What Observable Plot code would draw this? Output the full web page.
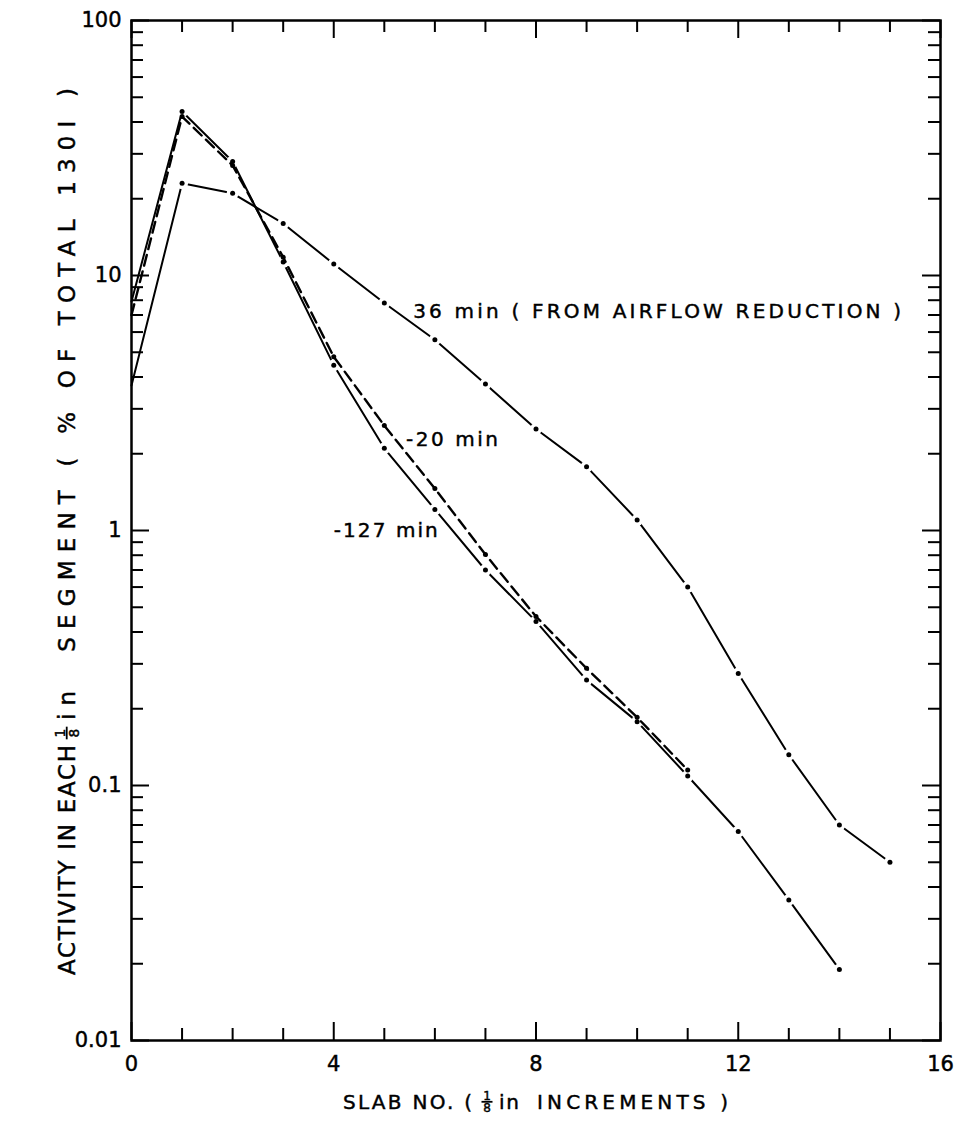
<!DOCTYPE html>
<html><head><meta charset="utf-8">
<script src="https://cdn.jsdelivr.net/npm/d3@7"></script>
<script src="https://cdn.jsdelivr.net/npm/@observablehq/plot@0.6"></script>
<style>
body{margin:0;background:#fff}
svg text{stroke:#000;stroke-width:0.45px;paint-order:fill}
</style>
</head><body><div id="chart"></div>
<script>
// ---- data ----
const slab = [0,1,2,3,4,5,6,7,8,9,10,11,12,13,14,15];
const act36  = [3.7, 23, 21, 16, 11.1, 7.8, 5.6, 3.75, 2.5, 1.78, 1.1, 0.6, 0.275, 0.132, 0.07, 0.05];
const actM20 = [7.0, 42, 27, 11.8, 4.8, 2.58, 1.46, 0.805, 0.46, 0.288, 0.185, 0.115];
const actM127 = [7.9, 44, 28, 11.3, 4.45, 2.1, 1.21, 0.70, 0.44, 0.259, 0.178, 0.109, 0.066, 0.0356, 0.019];

const labelText = ["36 min ( FROM AIRFLOW REDUCTION )", "-20 min", "-127 min"];
const labelX = [5.57, 5.43, 4.0];
const labelY = [7.2, 2.27, 1.0];

const yDecades = [0.01, 0.1, 1, 10, 100];
const yTickLabels = ["0.01", "0.1", "1", "10", "100"];
const yMinorMult = [2,3,4,5,6,7,8,9];
const xMajor = [0, 4, 8, 12, 16];
const xMinor = [1,2,3,5,6,7,9,10,11,13,14,15];

// axis titles, split around the stacked 1/8 fraction
const xTitleParts = ["SLAB NO. (", "in", "INCREMENTS )"];
const yTitleParts = ["ACTIVITY IN EACH", "in  SEGMENT ( % OF TOTAL 130I )"];

// ---- build tables ----
const rows = (vals, name) => vals.map((v, i) => ({slab: slab[i], act: v, name}));
const d36 = rows(act36, "36 min");
const d20 = rows(actM20, "-20 min");
const d127 = rows(actM127, "-127 min");
const yMinor = yDecades.slice(0, 4).flatMap(d => yMinorMult.map(k => +(k * d).toPrecision(3)));
const labels = labelText.map((t, i) => ({t, x: labelX[i], y: labelY[i]}));

const W = 958, H = 1142, mL = 131, mR = 18, mT = 20, mB = 102;
const pw = W - mL - mR, ph = H - mT - mB;
const font = "DejaVu Sans, Liberation Sans, sans-serif";

const notZero = d => d.slab > 0;
const plot = Plot.plot({
  width: W, height: H, marginLeft: mL, marginRight: mR, marginTop: mT, marginBottom: mB,
  style: {fontFamily: font, fontSize: "20px", color: "#000", background: "#fff"},
  x: {domain: [0, 16]},
  y: {type: "log", domain: [0.01, 100]},
  marks: [
    Plot.line(d36, {x: "slab", y: "act", stroke: "#000", strokeWidth: 2}),
    Plot.line(d127, {x: "slab", y: "act", stroke: "#000", strokeWidth: 2}),
    Plot.dot([...d36, ...d127].filter(notZero), {x: "slab", y: "act", r: 6, fill: "#fff"}),
    Plot.line(d20, {x: "slab", y: "act", stroke: "#000", strokeWidth: 2.4, strokeDasharray: "11,6"}),
    Plot.dot([...d36, ...d20, ...d127].filter(notZero), {x: "slab", y: "act", r: 2.5, fill: "#000"}),
    Plot.tickY(yMinor, {y: d => d, insetRight: pw - 12, strokeWidth: 2}),
    Plot.tickY(yDecades, {y: d => d, insetRight: pw - 18, strokeWidth: 2}),
    Plot.tickY(yMinor, {y: d => d, insetLeft: pw - 12, strokeWidth: 2}),
    Plot.tickY(yDecades, {y: d => d, insetLeft: pw - 18, strokeWidth: 2}),
    Plot.tickX(xMinor, {x: d => d, insetBottom: ph - 12, strokeWidth: 2}),
    Plot.tickX(xMajor, {x: d => d, insetBottom: ph - 18, strokeWidth: 2}),
    Plot.tickX(xMinor, {x: d => d, insetTop: ph - 12, strokeWidth: 2}),
    Plot.tickX(xMajor, {x: d => d, insetTop: ph - 18, strokeWidth: 2}),
    Plot.frame({stroke: "#000", strokeWidth: 2.5}),
    Plot.axisY({ticks: yDecades, tickSize: 0, tickPadding: 10, fontSize: 21,
      tickFormat: d => yTickLabels[yDecades.indexOf(d)], label: null}),
    Plot.axisX({ticks: xMajor, tickSize: 0, tickPadding: 16, fontSize: 21, label: null}),
    Plot.text(labels, {x: "x", y: "y", text: "t", textAnchor: "start", fontSize: 20, fill: "#000"})
  ]
});
document.getElementById("chart").append(plot);
const svg = d3.select(plot);

// fit in-plot labels to the lettering widths of the figure
const labelWidths = [488, 92, 104];
svg.selectAll('g[aria-label="text"] text').each(function(d, i) {
  d3.select(this).attr("textLength", labelWidths[i]).attr("lengthAdjust", "spacing");
});

// helpers: text piece fitted between u0 and u1 on a baseline, and a stacked 1/8
function piece(g, text, u0, u1, base) {
  return g.append("text").attr("x", u0).attr("y", base).attr("text-anchor", "start")
    .style("white-space", "pre").attr("textLength", u1 - u0).attr("lengthAdjust", "spacing").text(text);
}
function eighth(g, uc, base, fs) {
  const fw = fs * 0.55;
  g.append("text").attr("x", uc).attr("y", base - fs * 0.44).attr("text-anchor", "middle")
    .attr("font-size", fs * 0.6).text("1");
  g.append("line").attr("x1", uc - fw / 2).attr("x2", uc + fw / 2)
    .attr("y1", base - fs * 0.36).attr("y2", base - fs * 0.36).attr("stroke", "#000").attr("stroke-width", 1.8);
  g.append("text").attr("x", uc).attr("y", base + fs * 0.17).attr("text-anchor", "middle")
    .attr("font-size", fs * 0.6).text("8");
}

// x title
const xg = svg.append("g").attr("font-size", 20).attr("font-family", font).attr("fill", "#000");
piece(xg, xTitleParts[0], 343, 472, 1109);
eighth(xg, 487, 1109, 20);
piece(xg, xTitleParts[1], 499, 519, 1109);
piece(xg, xTitleParts[2], 537, 728, 1109);

// y title (rotated: local x = -page y, local y = page x)
const yg = svg.append("g").attr("transform", "rotate(-90)")
  .attr("font-size", 23).attr("font-family", font).attr("fill", "#000");
piece(yg, yTitleParts[0], -975, -745, 75);
eighth(yg, -733, 75, 23);
piece(yg, yTitleParts[1], -720, -88, 75);
</script>
</body></html>
